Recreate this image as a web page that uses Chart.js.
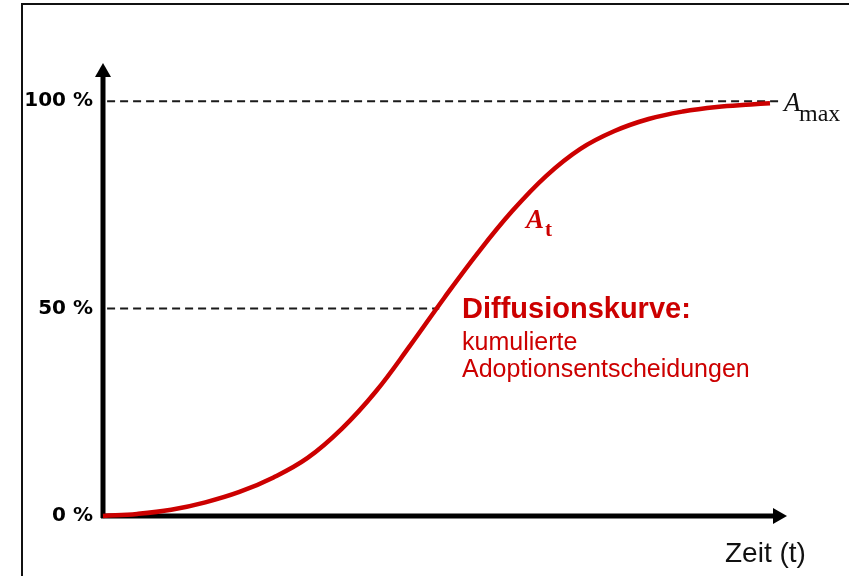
<!DOCTYPE html>
<html lang="de">
<head>
<meta charset="utf-8">
<title>Diffusionskurve</title>
<script src="https://cdn.jsdelivr.net/npm/chart.js@4.4.1/dist/chart.umd.min.js"></script>
<style>
  html, body { margin: 0; padding: 0; background: #fff; }
  #wrap { width: 849px; height: 576px; position: relative; }
</style>
</head>
<body>
<div id="wrap"><canvas id="chart"></canvas></div>
<script>
// ---- data ----
const timeValues = [0, 5, 10, 15, 20, 25, 30, 35, 40, 45, 50, 55, 60, 65, 70, 75, 80, 85, 90, 95, 97.8];
const adoptionShare = [0, 0.5, 1.5, 3.3, 5.8, 9.3, 14.0, 21.0, 30.0, 41.0, 52.5, 63.5, 73.5, 82.0, 88.5, 92.8, 95.7, 97.5, 98.6, 99.2, 99.5];
const yTicks = [0, 50, 100];
const tickLabels = ["0 %", "50 %", "100 %"];
const halfLineEnd = 49.3;  // dashed 50 % line stops at the curve
const fullLineEnd = 99.2;  // dashed 100 % line

const RED = "#cc0000";

const curvePoints = timeValues.map((t, i) => ({ x: t, y: adoptionShare[i] }));

// axes, arrows, tick labels and annotation text
const decorPlugin = {
  id: "decor",
  beforeDatasetsDraw(chart) {
    const { ctx, chartArea, scales } = chart;
    const x0 = scales.x.getPixelForValue(0);
    const y0 = scales.y.getPixelForValue(0);
    ctx.save();

    // outer frame (left + top)
    ctx.strokeStyle = "#111";
    ctx.lineWidth = 2;
    ctx.beginPath();
    ctx.moveTo(22, 576);
    ctx.lineTo(22, 4);
    ctx.lineTo(849, 4);
    ctx.stroke();

    // axes
    ctx.strokeStyle = "#000";
    ctx.fillStyle = "#000";
    ctx.lineWidth = 5;
    ctx.beginPath();
    ctx.moveTo(x0, y0 + 2);
    ctx.lineTo(x0, chartArea.top + 10);
    ctx.moveTo(x0 - 2, y0);
    ctx.lineTo(chartArea.right - 10, y0);
    ctx.stroke();

    // arrow heads
    ctx.beginPath();
    ctx.moveTo(x0, chartArea.top);
    ctx.lineTo(x0 - 8, chartArea.top + 14);
    ctx.lineTo(x0 + 8, chartArea.top + 14);
    ctx.closePath();
    ctx.fill();
    ctx.beginPath();
    ctx.moveTo(chartArea.right + 2, y0);
    ctx.lineTo(chartArea.right - 12, y0 - 8);
    ctx.lineTo(chartArea.right - 12, y0 + 8);
    ctx.closePath();
    ctx.fill();

    // tick labels
    ctx.font = "bold 20px 'DejaVu Sans'";
    ctx.textAlign = "right";
    ctx.textBaseline = "middle";
    yTicks.forEach((v, i) => {
      ctx.fillText(tickLabels[i], 93, scales.y.getPixelForValue(v));
    });
    ctx.restore();
  },
  afterDatasetsDraw(chart) {
    const { ctx } = chart;
    ctx.save();
    ctx.textAlign = "left";
    ctx.textBaseline = "alphabetic";

    // axis title
    ctx.fillStyle = "#111";
    ctx.font = "28px 'Liberation Sans'";
    ctx.fillText("Zeit (t)", 725, 562);

    // A_max
    ctx.font = "italic 27px 'Liberation Serif'";
    ctx.fillText("A", 784, 111);
    ctx.font = "24px 'Liberation Serif'";
    ctx.fillText("max", 799, 121);

    // A_t
    ctx.fillStyle = RED;
    ctx.font = "italic bold 27px 'Liberation Serif'";
    ctx.fillText("A", 526, 228);
    ctx.font = "bold 21px 'Liberation Serif'";
    ctx.fillText("t", 545, 236);

    // curve description
    ctx.font = "bold 29px 'Liberation Sans'";
    ctx.fillText("Diffusionskurve:", 462, 318);
    ctx.font = "25px 'Liberation Sans'";
    ctx.fillText("kumulierte", 462, 350);
    ctx.fillText("Adoptionsentscheidungen", 462, 377);
    ctx.restore();
  },
};

new Chart(document.getElementById("chart"), {
  type: "line",
  data: {
    datasets: [
      {
        label: "A_t",
        data: curvePoints,
        borderColor: RED,
        borderWidth: 4.5,
        pointRadius: 0,
        tension: 0.4,
        fill: false,
        clip: false,
      },
      {
        label: "100 %",
        data: [{ x: 0.6, y: 100 }, { x: fullLineEnd, y: 100 }],
        borderColor: "#1a1a1a",
        borderWidth: 2,
        borderDash: [8, 5],
        pointRadius: 0,
        clip: false,
      },
      {
        label: "50 %",
        data: [{ x: 0.6, y: 50 }, { x: halfLineEnd, y: 50 }],
        borderColor: "#1a1a1a",
        borderWidth: 2,
        borderDash: [8, 5],
        pointRadius: 0,
        clip: false,
      },
    ],
  },
  options: {
    responsive: true,
    maintainAspectRatio: false,
    animation: false,
    layout: { padding: { left: 103, right: 64, top: 63, bottom: 60 } },
    scales: {
      x: { type: "linear", display: false, min: 0, max: 100 },
      y: { type: "linear", display: false, min: 0, max: 109.2 },
    },
    plugins: {
      legend: { display: false },
      tooltip: { enabled: false },
    },
  },
  plugins: [decorPlugin],
});
</script>
</body>
</html>
